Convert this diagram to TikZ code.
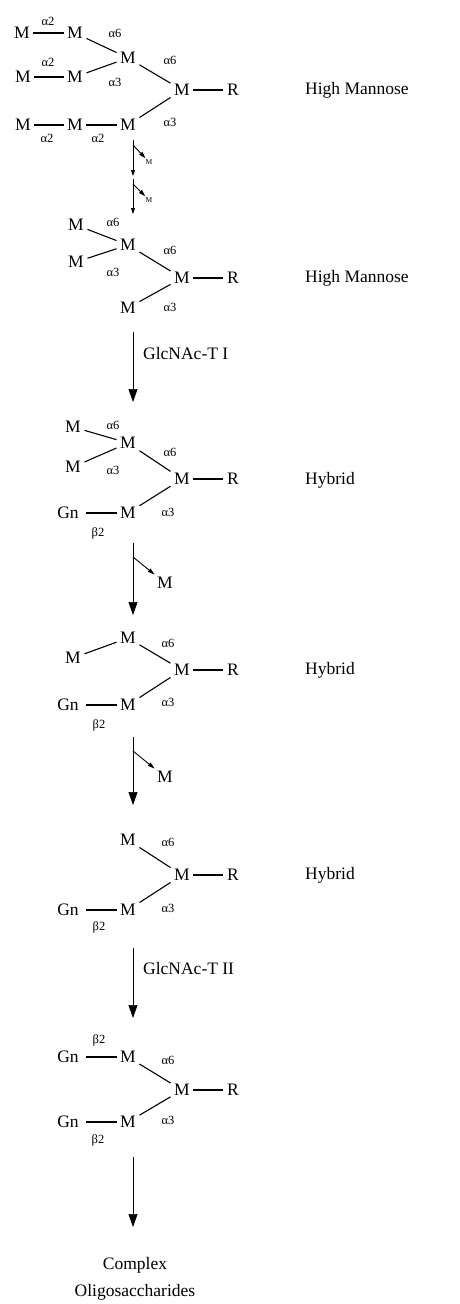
\documentclass[tikz,border=0pt]{standalone}
\usepackage{fontspec}
\setmainfont{Liberation Serif}
\usetikzlibrary{arrows.meta}

\begin{document}
\begin{tikzpicture}[
      x=1pt, y=-1pt,
      res/.style={font=\fontsize{17.5}{20}\selectfont, inner xsep=3.5pt, inner ysep=2.5pt, text height=11.5pt, text depth=0pt},
      gn/.style={res, inner xsep=7pt},
      smallres/.style={font=\fontsize{7.5}{8}\selectfont, inner sep=1pt},
      lnk/.style={font=\fontsize{12.5}{14}\selectfont, inner sep=0pt},
      tipo/.style={font=\fontsize{17.5}{20}\selectfont, anchor=west, inner sep=0pt},
      bond/.style={line width=1.1pt},
      freccia/.style={line width=0.7pt, -{Triangle[length=13pt,width=9pt]}},
      freccina/.style={line width=0.7pt, -{Triangle[length=6pt,width=4pt]}},
      ramo/.style={line width=0.9pt, -{Triangle[length=7pt,width=4pt]}}
    ]
    \useasboundingbox (0,0) rectangle (459,1304);

    % Nucleo comune: M -- R
    \foreach \n/\y in {a/90, b/278, c/479, d/670, e/875, f/1090} {
      \node[res] (\n4) at (182,\y) {M};
      \node[res] (\n R) at (233,\y) {R};
      \draw[bond] (\n4) -- (\n R);
    }

    % Etichette di classe
    \foreach \i/\y/\t in {1/90/High Mannose, 2/278/High Mannose, 3/480/Hybrid, 4/670/Hybrid, 5/875/Hybrid}
      \node[tipo] (tipo\i) at (305,\y) {\t};

    % Struttura 1
    \node[res] (a1) at (22,33) {M};
    \node[res] (a2) at (75,33) {M};
    \node[res] (b1) at (23,77) {M};
    \node[res] (b2) at (75,77) {M};
    \node[res] (c1) at (23,125) {M};
    \node[res] (c2) at (75,125) {M};
    \node[res] (c3) at (128,125) {M};
    \node[res] (a3) at (128,58) {M};
    \draw[bond] (a1) -- (a2);
    \draw[bond] (b1) -- (b2);
    \draw[bond] (c1) -- (c2) -- (c3);
    \draw[bond] (a2) -- (a3);
    \draw[bond] (b2) -- (a3);
    \draw[bond] (a3) -- (a4);
    \draw[bond] (c3) -- (a4);
    \node[lnk] (la1) at (48,21) {α2};
    \node[lnk] (la2) at (48,62) {α2};
    \node[lnk] (la3) at (47,138) {α2};
    \node[lnk] (la4) at (98,138) {α2};
    \node[lnk] (la5) at (115,33) {α6};
    \node[lnk] (la6) at (115,82) {α3};
    \node[lnk] (la7) at (170,60) {α6};
    \node[lnk] (la8) at (170,122) {α3};

    % Due tagli di M
    \coordinate (s1) at (133,140);
    \coordinate (s1e) at (133,176);
    \coordinate (s1b) at (133,145);
    \coordinate (s2) at (133,179);
    \coordinate (s2e) at (133,214);
    \coordinate (s2b) at (133,184);
    \node[smallres] (sm1) at (149,162) {M};
    \node[smallres] (sm2) at (149,200) {M};
    \draw[freccina] (s1) -- (s1e);
    \draw[ramo] (s1b) -- (sm1);
    \draw[freccina] (s2) -- (s2e);
    \draw[ramo] (s2b) -- (sm2);

    % Struttura 2
    \node[res] (b1x) at (76,225) {M};
    \node[res] (b2x) at (76,262) {M};
    \node[res] (b3) at (128,245) {M};
    \node[res] (b5) at (128,308) {M};
    \draw[bond] (b1x) -- (b3);
    \draw[bond] (b2x) -- (b3);
    \draw[bond] (b3) -- (b4);
    \draw[bond] (b5) -- (b4);
    \node[lnk] (lb1) at (113,222) {α6};
    \node[lnk] (lb2) at (113,272) {α3};
    \node[lnk] (lb3) at (170,250) {α6};
    \node[lnk] (lb4) at (170,307) {α3};

    % GlcNAc-T I
    \coordinate (t1) at (133,332);
    \coordinate (t1e) at (133,402);
    \draw[freccia] (t1) -- (t1e);
    \node[tipo] (enz1) at (143,354) {GlcNAc-T I};

    % Struttura 3
    \node[res] (c1x) at (73,427) {M};
    \node[res] (c2x) at (73,467) {M};
    \node[res] (c3x) at (128,443) {M};
    \node[gn] (cgn) at (68,513) {Gn};
    \node[res] (c5) at (128,513) {M};
    \draw[bond] (c1x) -- (c3x);
    \draw[bond] (c2x) -- (c3x);
    \draw[bond] (c3x) -- (c4);
    \draw[bond] (c5) -- (c4);
    \draw[bond] (cgn) -- (c5);
    \node[lnk] (lc1) at (113,425) {α6};
    \node[lnk] (lc2) at (113,470) {α3};
    \node[lnk] (lc3) at (170,452) {α6};
    \node[lnk] (lc4) at (168,512) {α3};
    \node[lnk] (lc5) at (98,533) {β2};

    % Taglio di M
    \coordinate (u1) at (133,543);
    \coordinate (u1e) at (133,615);
    \coordinate (u1b) at (133,557);
    \node[res] (um1) at (165,583) {M};
    \draw[freccia] (u1) -- (u1e);
    \draw[ramo] (u1b) -- (um1);

    % Struttura 4
    \node[res] (d3) at (128,638) {M};
    \node[res] (d1) at (73,658) {M};
    \node[gn] (dgn) at (68,705) {Gn};
    \node[res] (d5) at (128,705) {M};
    \draw[bond] (d1) -- (d3);
    \draw[bond] (d3) -- (d4);
    \draw[bond] (d5) -- (d4);
    \draw[bond] (dgn) -- (d5);
    \node[lnk] (ld1) at (168,643) {α6};
    \node[lnk] (ld2) at (168,702) {α3};
    \node[lnk] (ld3) at (99,725) {β2};

    % Taglio di M
    \coordinate (u2) at (133,737);
    \coordinate (u2e) at (133,805);
    \coordinate (u2b) at (133,751);
    \node[res] (um2) at (165,777) {M};
    \draw[freccia] (u2) -- (u2e);
    \draw[ramo] (u2b) -- (um2);

    % Struttura 5
    \node[res] (e3) at (128,840) {M};
    \node[gn] (egn) at (68,910) {Gn};
    \node[res] (e5) at (128,910) {M};
    \draw[bond] (e3) -- (e4);
    \draw[bond] (e5) -- (e4);
    \draw[bond] (egn) -- (e5);
    \node[lnk] (le1) at (168,842) {α6};
    \node[lnk] (le2) at (168,908) {α3};
    \node[lnk] (le3) at (99,927) {β2};

    % GlcNAc-T II
    \coordinate (t2) at (133,948);
    \coordinate (t2e) at (133,1018);
    \draw[freccia] (t2) -- (t2e);
    \node[tipo] (enz2) at (143,969) {GlcNAc-T II};

    % Struttura 6
    \node[gn] (fgn1) at (68,1057) {Gn};
    \node[res] (f3) at (128,1057) {M};
    \node[gn] (fgn2) at (68,1122) {Gn};
    \node[res] (f5) at (128,1122) {M};
    \draw[bond] (fgn1) -- (f3);
    \draw[bond] (fgn2) -- (f5);
    \draw[bond] (f3) -- (f4);
    \draw[bond] (f5) -- (f4);
    \node[lnk] (lf1) at (99,1040) {β2};
    \node[lnk] (lf2) at (168,1060) {α6};
    \node[lnk] (lf3) at (168,1120) {α3};
    \node[lnk] (lf4) at (98,1140) {β2};

    % Prodotto finale
    \coordinate (t3) at (133,1157);
    \coordinate (t3e) at (133,1227);
    \draw[freccia] (t3) -- (t3e);
    \node[align=center, font=\fontsize{17.5}{27}\selectfont, inner sep=0pt] (cplx) at (135,1279) {Complex\\Oligosaccharides};
  \end{tikzpicture}
\end{document}
